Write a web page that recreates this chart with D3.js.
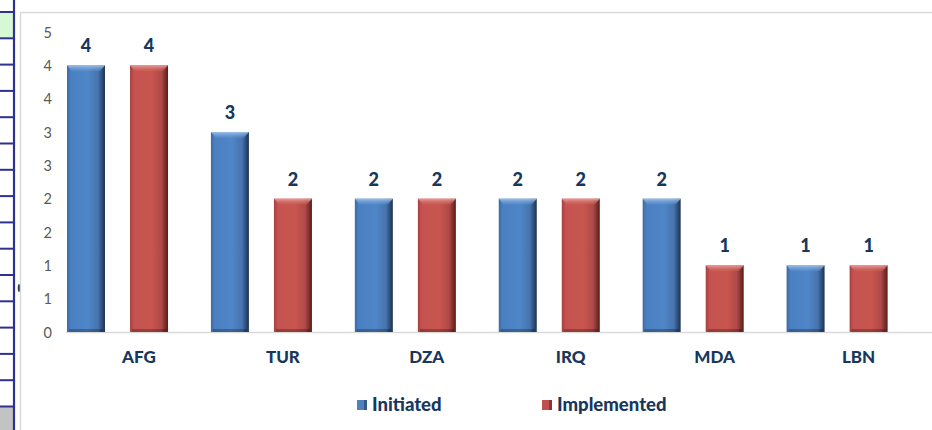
<!DOCTYPE html>
<html>
<head>
<meta charset="utf-8">
<script src="https://cdn.jsdelivr.net/npm/d3@7"></script>
<style>
  html, body { margin: 0; padding: 0; background: #ffffff; }
  svg { display: block; }
</style>
</head>
<body>
<div id="chart"></div>
<script>
// Country codes and the two counts shown per country
const categories = ["AFG", "TUR", "DZA", "IRQ", "MDA", "LBN"];
const initiated = [4, 3, 2, 2, 2, 1];
const implemented = [4, 2, 2, 2, 1, 1];
const seriesNames = ["Initiated", "Implemented"];

// Value axis: half-unit steps, labels shown rounded to whole numbers
const yTickValues = [0, 0.5, 1, 1.5, 2, 2.5, 3, 3.5, 4, 4.5];
const yTickLabels = ["0", "1", "1", "2", "2", "3", "3", "4", "4", "5"];

const W = 932, H = 430;
const navy = "#17375E";
const FONT = "Lato, 'Open Sans', sans-serif";

const svg = d3.select("#chart").append("svg")
  .attr("width", W).attr("height", H);

const defs = svg.append("defs");

// Bevelled bar fills: darker edges, lighter body
function barGradient(id, stops) {
  const g = defs.append("linearGradient").attr("id", id)
    .attr("x1", "0%").attr("x2", "100%").attr("y1", "0%").attr("y2", "0%");
  stops.forEach(s => g.append("stop").attr("offset", s[0]).attr("stop-color", s[1]));
}
barGradient("gBlue", [["0%", "#3C6AA3"], ["10%", "#4A80C2"], ["55%", "#4F86C8"], ["82%", "#4674AE"], ["93%", "#2C4A74"], ["100%", "#1E3350"]]);
barGradient("gRed", [["0%", "#A8403D"], ["10%", "#C4524F"], ["55%", "#C8564F"], ["82%", "#B04A47"], ["93%", "#7A2E2B"], ["100%", "#512020"]]);

function capGradient(id, c1, c2) {
  const g = defs.append("linearGradient").attr("id", id)
    .attr("x1", "0%").attr("x2", "0%").attr("y1", "0%").attr("y2", "100%");
  g.append("stop").attr("offset", "0%").attr("stop-color", c1);
  g.append("stop").attr("offset", "100%").attr("stop-color", c2).attr("stop-opacity", 0.2);
}
capGradient("capBlue", "#9CC0EC", "#6E9BD2");
capGradient("capRed", "#EC9A96", "#D06A66");

const fills = ["url(#gBlue)", "url(#gRed)"];
const caps = ["url(#capBlue)", "url(#capRed)"];
const legendFills = ["#4F81BD", "#C0504D"];

// ---- spreadsheet strip on the left edge ----
const rowLines = d3.range(16).map(i => 12 + i * 26.3);
svg.append("rect").attr("x", 0).attr("y", 12).attr("width", 13).attr("height", 26)
  .attr("fill", "#D7F8D5");
svg.append("rect").attr("x", 0).attr("y", 407).attr("width", 13).attr("height", 23)
  .attr("fill", "#C3C3C3");
svg.selectAll("line.row").data(rowLines).join("line").attr("class", "row")
  .attr("x1", 0).attr("x2", 14).attr("y1", d => d).attr("y2", d => d)
  .attr("stroke", "#2E3192").attr("stroke-width", 2);
svg.append("line").attr("x1", 14).attr("x2", 14).attr("y1", 0).attr("y2", H)
  .attr("stroke", "#2E3192").attr("stroke-width", 2.2);
svg.append("ellipse").attr("cx", 19).attr("cy", 288).attr("rx", 1.2).attr("ry", 4)
  .attr("fill", "#1F3864");

// ---- chart frame ----
svg.append("line").attr("x1", 20.5).attr("x2", 20.5).attr("y1", 12).attr("y2", H)
  .attr("stroke", "#D9D9D9").attr("stroke-width", 1.5);
svg.append("line").attr("x1", 20).attr("x2", W).attr("y1", 12.5).attr("y2", 12.5)
  .attr("stroke", "#D9D9D9").attr("stroke-width", 1.5);

// ---- scales ----
const x = d3.scaleBand().domain(categories).range([67, 930.5]).padding(0);
const y = d3.scaleLinear().domain([0, 4.5]).range([332, 32]);

const bw = x.bandwidth();
const barW = bw * 0.264;
const offsets = [0, bw * 0.438];

// ---- value axis ----
const yAxis = d3.axisLeft(y).tickValues(yTickValues)
  .tickFormat((d, i) => yTickLabels[i]).tickSize(0).tickPadding(0);
const yG = svg.append("g").attr("transform", "translate(52,0)").call(yAxis);
yG.select(".domain").remove();
yG.selectAll("text").attr("fill", "#595959").attr("font-family", FONT)
  .attr("font-size", 14.5).attr("dy", "0.35em");

// ---- baseline ----
svg.append("line").attr("x1", 66).attr("x2", W).attr("y1", y(0) + 0.5).attr("y2", y(0) + 0.5)
  .attr("stroke", "#D9D9D9").attr("stroke-width", 1.5);

// ---- bars ----
const series = [initiated, implemented];
series.forEach((vals, si) => {
  const g = svg.append("g");
  const rows = categories.map((c, i) => ({ c, v: vals[i] }));
  g.selectAll("rect.bar").data(rows).join("rect").attr("class", "bar")
    .attr("x", d => x(d.c) + offsets[si])
    .attr("y", d => y(d.v))
    .attr("width", barW)
    .attr("height", d => y(0) - y(d.v))
    .attr("fill", fills[si]);
  // top bevel highlight
  g.selectAll("path.cap").data(rows).join("path").attr("class", "cap")
    .attr("d", d => {
      const x0 = x(d.c) + offsets[si], y0 = y(d.v);
      return `M${x0},${y0} L${x0 + barW},${y0} L${x0 + barW - 5},${y0 + 6} L${x0 + 5},${y0 + 6} Z`;
    })
    .attr("fill", caps[si]);
  // bottom bevel shade
  g.selectAll("rect.foot").data(rows).join("rect").attr("class", "foot")
    .attr("x", d => x(d.c) + offsets[si] + 2)
    .attr("y", y(0) - 3)
    .attr("width", barW - 4).attr("height", 3)
    .attr("fill", "#000").attr("opacity", 0.25);
  // value labels
  g.selectAll("text.val").data(rows).join("text").attr("class", "val")
    .attr("x", d => x(d.c) + offsets[si] + barW / 2)
    .attr("y", d => y(d.v) - 13)
    .attr("text-anchor", "middle")
    .attr("font-family", FONT).attr("font-weight", 900).attr("font-size", 18)
    .attr("fill", navy)
    .text(d => d.v);
});

// ---- category labels ----
svg.append("g").selectAll("text").data(categories).join("text")
  .attr("x", d => x(d) + bw / 2)
  .attr("y", 363)
  .attr("text-anchor", "middle")
  .attr("font-family", FONT).attr("font-weight", 900).attr("font-size", 17)
  .attr("fill", navy)
  .text(d => d);

// ---- legend ----
const legendX = [357, 542];
const lg = svg.append("g");
seriesNames.forEach((name, i) => {
  lg.append("rect").attr("x", legendX[i]).attr("y", 400).attr("width", 10).attr("height", 10)
    .attr("fill", legendFills[i]);
  lg.append("rect").attr("x", legendX[i] + 7).attr("y", 400).attr("width", 3).attr("height", 10)
    .attr("fill", "#000").attr("opacity", 0.3);
  lg.append("text").attr("x", legendX[i] + 15).attr("y", 410.5)
    .attr("font-family", FONT).attr("font-weight", 900).attr("font-size", 18.5)
    .attr("fill", navy).text(name);
});
</script>
</body>
</html>
